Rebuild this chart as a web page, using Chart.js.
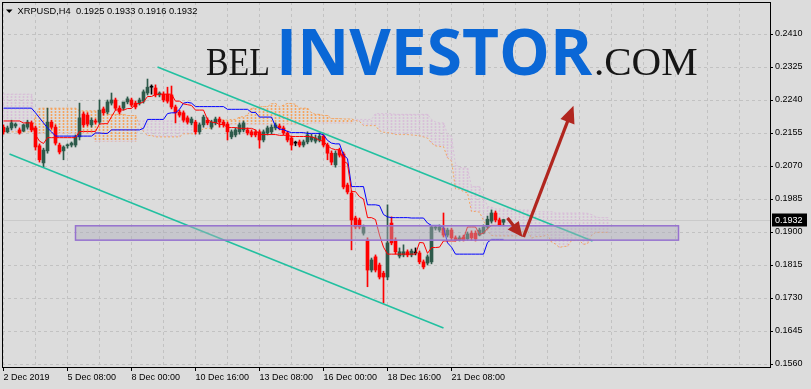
<!DOCTYPE html>
<html><head><meta charset="utf-8">
<script src="https://cdn.jsdelivr.net/npm/chart.js@4.4.1/dist/chart.umd.min.js"></script>
<style>html,body{margin:0;padding:0;background:#dcdcdc;overflow:hidden}</style>
</head><body>
<canvas id="c" width="811" height="389"></canvas>
<script>
// ---------- DATA (XRPUSD, H4) ----------
const xLabels = ['2 Dec 2019','5 Dec 08:00','8 Dec 00:00','10 Dec 16:00','13 Dec 08:00','16 Dec 00:00','18 Dec 16:00','21 Dec 08:00'];
const xGridBars = [0,8,16,24,32,40,48,56,64,72,80,88,96,104,112,120,128,136,144,152,160,168,176,184];
const yTicks = [0.1560,0.1645,0.1730,0.1815,0.1900,0.1985,0.2070,0.2155,0.2240,0.2325,0.2410];

const opens = [0.2170,0.2158,0.2168,0.2173,0.2163,0.2160,0.2170,0.2181,0.2168,0.2122,
0.2078,0.2109,0.2183,0.2170,0.2124,0.2109,0.2122,0.2124,0.2124,0.2145,
0.2204,0.2201,0.2176,0.2186,0.2183,0.2217,0.2209,0.2232,0.2240,0.2219,
0.2219,0.2235,0.2240,0.2232,0.2232,0.2237,0.2258,0.2273,0.2271,0.2253,
0.2255,0.2255,0.2253,0.2222,0.2209,0.2207,0.2194,0.2181,0.2183,0.2158,
0.2176,0.2188,0.2170,0.2181,0.2191,0.2183,0.2178,0.2145,0.2150,0.2158,
0.2163,0.2163,0.2158,0.2158,0.2158,0.2137,0.2155,0.2158,0.2168,0.2173,
0.2168,0.2155,0.2142,0.2129,0.2132,0.2124,0.2132,0.2137,0.2134,0.2137,
0.2147,0.2124,0.2103,0.2073,0.2111,0.2101,0.2021,0.2000,0.1936,0.1931,
0.1897,0.1879,0.1802,0.1836,0.1815,0.1794,0.1784,0.1923,0.1879,0.1838,
0.1841,0.1849,0.1841,0.1846,0.1846,0.1823,0.1820,0.1823,0.1910,0.1905,
0.1910,0.1892,0.1905,0.1885,0.1879,0.1887,0.1882,0.1897,0.1897,0.1892,
0.1897,0.1913,0.1928,0.1949,0.1931,0.1925];
const highs = [0.2176,0.2173,0.2188,0.2181,0.2168,0.2178,0.2188,0.2186,0.2173,0.2127,
0.2116,0.2219,0.2188,0.2176,0.2129,0.2122,0.2127,0.2132,0.2150,0.2232,
0.2209,0.2207,0.2194,0.2191,0.2240,0.2222,0.2240,0.2258,0.2245,0.2225,
0.2227,0.2248,0.2245,0.2237,0.2245,0.2266,0.2294,0.2279,0.2279,0.2261,
0.2261,0.2273,0.2276,0.2227,0.2214,0.2212,0.2199,0.2196,0.2188,0.2181,
0.2201,0.2194,0.2188,0.2196,0.2196,0.2188,0.2183,0.2163,0.2168,0.2181,
0.2186,0.2168,0.2163,0.2163,0.2163,0.2163,0.2173,0.2176,0.2181,0.2178,
0.2173,0.2160,0.2147,0.2134,0.2137,0.2137,0.2158,0.2152,0.2150,0.2155,
0.2155,0.2129,0.2109,0.2109,0.2116,0.2106,0.2026,0.2006,0.1941,0.1936,
0.1918,0.1885,0.1833,0.1841,0.1820,0.1799,0.1970,0.1939,0.1885,0.1859,
0.1867,0.1854,0.1856,0.1859,0.1851,0.1828,0.1841,0.1916,0.1916,0.1918,
0.1949,0.1910,0.1910,0.1890,0.1890,0.1892,0.1900,0.1903,0.1903,0.1910,
0.1918,0.1941,0.1957,0.1954,0.1936,0.1933];
const lows = [0.2152,0.2155,0.2163,0.2168,0.2152,0.2158,0.2165,0.2158,0.2111,0.2080,
0.2067,0.2103,0.2165,0.2124,0.2101,0.2086,0.2116,0.2119,0.2119,0.2137,
0.2170,0.2173,0.2170,0.2178,0.2178,0.2201,0.2204,0.2227,0.2214,0.2204,
0.2214,0.2230,0.2222,0.2217,0.2227,0.2232,0.2253,0.2255,0.2248,0.2248,
0.2235,0.2232,0.2217,0.2181,0.2196,0.2183,0.2178,0.2176,0.2152,0.2152,
0.2170,0.2176,0.2165,0.2176,0.2170,0.2170,0.2137,0.2140,0.2145,0.2152,
0.2158,0.2150,0.2145,0.2145,0.2116,0.2132,0.2150,0.2152,0.2163,0.2163,
0.2150,0.2132,0.2111,0.2122,0.2119,0.2119,0.2127,0.2132,0.2129,0.2132,
0.2119,0.2086,0.2073,0.2067,0.2093,0.2011,0.1998,0.1854,0.1908,0.1908,
0.1892,0.1759,0.1797,0.1797,0.1779,0.1717,0.1777,0.1867,0.1843,0.1833,
0.1836,0.1836,0.1836,0.1841,0.1818,0.1805,0.1815,0.1818,0.1905,0.1900,
0.1887,0.1887,0.1879,0.1877,0.1877,0.1877,0.1879,0.1879,0.1877,0.1890,
0.1895,0.1908,0.1923,0.1926,0.1916,0.1916];
const closes = [0.2158,0.2168,0.2181,0.2178,0.2155,0.2176,0.2183,0.2163,0.2119,0.2086,
0.2111,0.2183,0.2170,0.2129,0.2106,0.2119,0.2124,0.2129,0.2145,0.2194,
0.2176,0.2178,0.2188,0.2183,0.2214,0.2207,0.2235,0.2240,0.2219,0.2209,
0.2235,0.2243,0.2227,0.2222,0.2240,0.2261,0.2273,0.2273,0.2253,0.2258,
0.2240,0.2237,0.2222,0.2207,0.2201,0.2188,0.2183,0.2191,0.2158,0.2176,
0.2196,0.2181,0.2183,0.2191,0.2183,0.2176,0.2158,0.2158,0.2163,0.2176,
0.2181,0.2155,0.2150,0.2150,0.2137,0.2158,0.2168,0.2170,0.2176,0.2168,
0.2155,0.2137,0.2124,0.2129,0.2124,0.2132,0.2150,0.2145,0.2142,0.2147,
0.2124,0.2103,0.2080,0.2103,0.2098,0.2016,0.2003,0.1931,0.1913,0.1913,
0.1913,0.1802,0.1828,0.1802,0.1784,0.1784,0.1872,0.1872,0.1849,0.1849,
0.1849,0.1841,0.1851,0.1846,0.1823,0.1810,0.1836,0.1913,0.1913,0.1913,
0.1892,0.1905,0.1885,0.1879,0.1885,0.1879,0.1895,0.1885,0.1882,0.1905,
0.1913,0.1933,0.1949,0.1931,0.1918,0.1932];

const tenkan = [0.2186,0.2186,0.2186,0.2186,0.2186,0.2181,0.2181,0.2181,0.2150,0.2134,
0.2128,0.2143,0.2143,0.2143,0.2143,0.2143,0.2143,0.2143,0.2143,0.2159,
0.2159,0.2159,0.2159,0.2159,0.2178,0.2179,0.2179,0.2197,0.2214,0.2215,
0.2214,0.2218,0.2218,0.2230,0.2231,0.2235,0.2249,0.2249,0.2254,0.2255,
0.2255,0.2255,0.2255,0.2237,0.2237,0.2230,0.2228,0.2226,0.2214,0.2214,
0.2214,0.2190,0.2183,0.2182,0.2177,0.2177,0.2169,0.2169,0.2169,0.2167,
0.2167,0.2167,0.2167,0.2163,0.2151,0.2151,0.2151,0.2151,0.2151,0.2149,
0.2149,0.2149,0.2146,0.2146,0.2146,0.2146,0.2146,0.2145,0.2142,0.2136,
0.2134,0.2122,0.2115,0.2112,0.2112,0.2083,0.2076,0.2004,0.2004,0.1991,
0.1985,0.1937,0.1937,0.1932,0.1892,0.1861,0.1843,0.1843,0.1843,0.1843,
0.1843,0.1843,0.1843,0.1843,0.1873,0.1872,0.1845,0.1860,0.1860,0.1861,
0.1877,0.1877,0.1877,0.1877,0.1882,0.1883,0.1913,0.1913,0.1913,0.1894,
0.1897,0.1909,0.1917,0.1917,0.1917,0.1917];
const kijun = [0.2219,0.2219,0.2219,0.2219,0.2219,0.2219,0.2219,0.2219,0.2207,0.2194,
0.2181,0.2168,0.2158,0.2147,0.2147,0.2147,0.2147,0.2147,0.2147,0.2147,
0.2147,0.2147,0.2147,0.2155,0.2155,0.2154,0.2154,0.2163,0.2163,0.2163,
0.2163,0.2163,0.2163,0.2163,0.2163,0.2167,0.2190,0.2190,0.2190,0.2190,
0.2190,0.2205,0.2207,0.2207,0.2216,0.2232,0.2234,0.2232,0.2223,0.2223,
0.2223,0.2223,0.2223,0.2223,0.2223,0.2223,0.2216,0.2216,0.2216,0.2216,
0.2216,0.2216,0.2208,0.2208,0.2196,0.2196,0.2196,0.2196,0.2172,0.2165,
0.2164,0.2159,0.2156,0.2156,0.2156,0.2156,0.2154,0.2154,0.2154,0.2154,
0.2150,0.2136,0.2129,0.2127,0.2127,0.2098,0.2089,0.2017,0.2017,0.2017,
0.2017,0.1970,0.1970,0.1970,0.1968,0.1945,0.1939,0.1937,0.1937,0.1937,
0.1937,0.1937,0.1936,0.1936,0.1936,0.1936,0.1923,0.1917,0.1917,0.1917,
0.1912,0.1872,0.1861,0.1843,0.1843,0.1843,0.1843,0.1843,0.1843,0.1843,
0.1843,0.1873,0.1881,0.1881,0.1881,0.1881];
const spanA = [0.2158,0.2158,0.2158,0.2158,0.2158,0.2158,0.2158,0.2158,0.2199,0.2219,
0.2219,0.2219,0.2219,0.2219,0.2219,0.2219,0.2219,0.2219,0.2219,0.2212,
0.2212,0.2212,0.2212,0.2212,0.2212,0.2212,0.2203,0.2203,0.2203,0.2203,
0.2203,0.2200,0.2200,0.2200,0.2176,0.2159,0.2148,0.2149,0.2145,0.2145,
0.2145,0.2145,0.2145,0.2145,0.2145,0.2153,0.2153,0.2153,0.2153,0.2157,
0.2167,0.2167,0.2167,0.2180,0.2188,0.2189,0.2188,0.2190,0.2190,0.2196,
0.2197,0.2201,0.2219,0.2219,0.2222,0.2223,0.2223,0.2230,0.2231,0.2222,
0.2227,0.2231,0.2231,0.2229,0.2219,0.2219,0.2219,0.2207,0.2203,0.2203,
0.2200,0.2200,0.2192,0.2192,0.2192,0.2191,0.2191,0.2191,0.2187,0.2185,
0.2174,0.2174,0.2174,0.2174,0.2161,0.2157,0.2156,0.2154,0.2151,0.2151,
0.2151,0.2151,0.2150,0.2149,0.2148,0.2145,0.2142,0.2129,0.2122,0.2120,
0.2120,0.2091,0.2083,0.2011,0.2011,0.2004,0.2001,0.1953,0.1953,0.1951,
0.1930,0.1903,0.1891,0.1890,0.1890,0.1890,0.1890,0.1890,0.1890,0.1890,
0.1904,0.1904,0.1884,0.1888,0.1888,0.1889,0.1894,0.1874,0.1869,0.1860,
0.1863,0.1863,0.1878,0.1878,0.1878,0.1868,0.1870,0.1891,0.1899,0.1899,
0.1899,0.1899];
const spanB = [0.2255,0.2255,0.2255,0.2255,0.2255,0.2255,0.2255,0.2255,0.2155,0.2155,
0.2155,0.2155,0.2155,0.2155,0.2155,0.2155,0.2155,0.2155,0.2155,0.2155,
0.2155,0.2155,0.2155,0.2134,0.2134,0.2134,0.2134,0.2134,0.2134,0.2134,
0.2134,0.2134,0.2134,0.2134,0.2186,0.2186,0.2186,0.2186,0.2186,0.2186,
0.2186,0.2186,0.2186,0.2186,0.2186,0.2186,0.2186,0.2186,0.2186,0.2178,
0.2178,0.2178,0.2178,0.2178,0.2178,0.2178,0.2178,0.2178,0.2178,0.2178,
0.2178,0.2178,0.2178,0.2178,0.2178,0.2178,0.2178,0.2178,0.2178,0.2178,
0.2178,0.2178,0.2178,0.2178,0.2178,0.2178,0.2178,0.2181,0.2181,0.2181,
0.2181,0.2181,0.2181,0.2181,0.2181,0.2181,0.2181,0.2181,0.2190,0.2190,
0.2190,0.2190,0.2190,0.2205,0.2205,0.2205,0.2205,0.2205,0.2203,0.2203,
0.2203,0.2203,0.2203,0.2203,0.2203,0.2203,0.2203,0.2190,0.2183,0.2181,
0.2181,0.2152,0.2146,0.2074,0.2066,0.2066,0.2065,0.2017,0.2017,0.2017,
0.1993,0.1966,0.1964,0.1959,0.1959,0.1959,0.1959,0.1959,0.1957,0.1957,
0.1957,0.1957,0.1953,0.1952,0.1952,0.1952,0.1952,0.1952,0.1949,0.1949,
0.1949,0.1949,0.1949,0.1949,0.1949,0.1949,0.1948,0.1945,0.1939,0.1937,
0.1937,0.1937];

const lastPrice = 0.1932;
const headerText = 'XRPUSD,H4  0.1925 0.1933 0.1916 0.1932';
// drawn objects, in (bar index, price)
const trendUpper = [[38.5,0.2325],[147.25,0.1877]];
const trendLower = [[1.5,0.2101],[110,0.1653]];
const zoneBars = [18,168.75];
const zonePrices = [0.1916,0.1879];
const arrowShort = [[126,0.1936],[129.75,0.1887]];
const arrowLong = [[130,0.1887],[142.5,0.2225]];

// ---------- STYLE ----------
const BG = '#dcdcdc', GRID = '#c2c2c2';
const BULL = '#2d5a4a', BEAR = '#ff0000', DOJI = '#000000';
const FONT = '"Liberation Sans", Arial, sans-serif';
function candleColor(i){ return closes[i] > opens[i] ? BULL : (closes[i] < opens[i] ? BEAR : DOJI); }

const canvas = document.getElementById('c');
const ctx0 = canvas.getContext('2d');
function hatch(color){
  const p = document.createElement('canvas'); p.width = 1; p.height = 3;
  const g = p.getContext('2d'); g.fillStyle = color; g.fillRect(0,0,1,2);
  return ctx0.createPattern(p,'repeat');
}
const hatchOrange = hatch('#f4a460'), hatchThistle = hatch('#d8bfd8');
function labelFor(v){ return (v % 16 === 0 && v/16 < xLabels.length) ? xLabels[v/16] : ''; }

const bgPlugin = { id:'bg', beforeDraw(chart){ const g=chart.ctx; g.save(); g.fillStyle=BG; g.fillRect(0,0,chart.width,chart.height); g.restore(); } };

const underlay = { id:'under', beforeDatasetsDraw(chart){
  const g = chart.ctx, a = chart.chartArea, ys = chart.scales.y;
  g.save();
  // bid line
  const by = Math.round(ys.getPixelForValue(lastPrice)) + 0.5;
  g.strokeStyle = '#cacaca'; g.lineWidth = 1;
  g.beginPath(); g.moveTo(a.left, by); g.lineTo(a.right, by); g.stroke();
  // watermark
  g.textBaseline = 'alphabetic'; g.textAlign = 'left';
  g.fillStyle = '#161616'; g.font = '41px "Liberation Serif", serif';
  g.fillText('BEL', 206, 75, 64);
  g.fillStyle = '#0a67d6'; g.font = 'bold 64px "Open Sans", sans-serif';
  g.fillText('INVESTOR', 276, 75, 318);
  g.fillStyle = '#161616'; g.font = '41px "Liberation Serif", serif';
  g.fillText('.COM', 594, 75, 106);
  g.restore();
}};

function drawArrow(g, xs, ys, pts, head, halfW){
  const x1 = xs.getPixelForValue(pts[0][0]), y1 = ys.getPixelForValue(pts[0][1]);
  const x2 = xs.getPixelForValue(pts[1][0]), y2 = ys.getPixelForValue(pts[1][1]);
  const dx = x2-x1, dy = y2-y1, L = Math.hypot(dx,dy), ux = dx/L, uy = dy/L;
  const bx = x2 - ux*head, by = y2 - uy*head;
  g.beginPath(); g.moveTo(x1,y1); g.lineTo(x2-ux*head*0.6, y2-uy*head*0.6); g.stroke();
  g.beginPath(); g.moveTo(x2,y2); g.lineTo(bx - uy*halfW, by + ux*halfW); g.lineTo(bx + uy*halfW, by - ux*halfW); g.closePath(); g.fill();
}

const overlay = { id:'over', afterDatasetsDraw(chart){
  const g = chart.ctx, xs = chart.scales.x, ys = chart.scales.y, a = chart.chartArea;
  g.save();
  g.beginPath(); g.rect(a.left, a.top, a.right-a.left, a.bottom-a.top); g.clip();
  // zone rectangle
  const rx0 = xs.getPixelForValue(zoneBars[0]), rx1 = xs.getPixelForValue(zoneBars[1]);
  const ry0 = ys.getPixelForValue(zonePrices[0]), ry1 = ys.getPixelForValue(zonePrices[1]);
  g.fillStyle = 'rgba(172,172,186,0.45)';
  g.fillRect(rx0, ry0, rx1-rx0, ry1-ry0);
  g.strokeStyle = '#9672cf'; g.lineWidth = 1.5;
  g.strokeRect(rx0, ry0, rx1-rx0, ry1-ry0);
  // arrows
  g.strokeStyle = '#b1261f'; g.fillStyle = '#b1261f'; g.lineWidth = 3.2; g.lineCap = 'butt';
  drawArrow(g, xs, ys, arrowShort, 15, 7);
  drawArrow(g, xs, ys, arrowLong, 17, 7.5);
  g.restore();
}};

const frame = { id:'frame', afterDraw(chart){
  const g = chart.ctx, a = chart.chartArea, ys = chart.scales.y;
  g.save();
  g.strokeStyle = '#000'; g.lineWidth = 1;
  g.strokeRect(a.left+0.5, a.top+0.5, a.right-a.left, a.bottom-a.top);
  // header
  g.fillStyle = '#000';
  g.beginPath(); g.moveTo(6,9.5); g.lineTo(12.5,9.5); g.lineTo(9.25,13); g.closePath(); g.fill();
  g.font = '9.3px ' + FONT; g.textBaseline = 'alphabetic'; g.textAlign = 'left';
  g.fillText(headerText, 17.5, 14);
  // price label
  const py = ys.getPixelForValue(lastPrice);
  g.fillStyle = '#000'; g.fillRect(772, Math.round(py)-6.5, 35, 13);
  g.fillStyle = '#fff'; g.font = '9px ' + FONT; g.textBaseline = 'middle';
  g.fillText(lastPrice.toFixed(4), 775, py+0.5);
  g.restore();
}};

const pt = (arr) => arr.map((v,i) => ({x:i, y:v}));
const xy = (arr) => arr.map(p => ({x:p[0], y:p[1]}));

new Chart(canvas, {
  type: 'bar',
  data: { datasets: [
    { type:'bar', label:'Kumo', data: spanA.map((v,j)=>({x:j, y:[v, spanB[j]]})),
      backgroundColor: c => (c.raw && c.raw.y[0] >= c.raw.y[1]) ? hatchOrange : hatchThistle,
      barThickness:1, grouped:false, borderWidth:0, order:10 },
    { type:'line', label:'Senkou Span A', data: pt(spanA), borderColor:'#f4a460', borderWidth:1, borderDash:[2,2], pointRadius:0, tension:0, order:9 },
    { type:'line', label:'Senkou Span B', data: pt(spanB), borderColor:'#d8bfd8', borderWidth:1, borderDash:[2,2], pointRadius:0, tension:0, order:9 },
    { type:'bar', label:'Wicks', data: lows.map((v,i)=>({x:i, y:[v, highs[i]]})),
      backgroundColor: c => candleColor(c.dataIndex), barThickness:1, grouped:false, borderWidth:0, order:8 },
    { type:'bar', label:'Bodies', data: opens.map((v,i)=>({x:i, y:[v, closes[i]]})),
      backgroundColor: c => candleColor(c.dataIndex), barThickness:3, minBarLength:1, grouped:false, borderWidth:0, order:7 },
    { type:'line', label:'Tenkan-sen', data: pt(tenkan), borderColor:'#ff0000', borderWidth:1, pointRadius:0, tension:0, order:6 },
    { type:'line', label:'Kijun-sen', data: pt(kijun), borderColor:'#0000ff', borderWidth:1, pointRadius:0, tension:0, order:6 },
    { type:'line', label:'Trend upper', data: xy(trendUpper), borderColor:'#22c0a0', borderWidth:1.6, pointRadius:0, order:5 },
    { type:'line', label:'Trend lower', data: xy(trendLower), borderColor:'#22c0a0', borderWidth:1.6, pointRadius:0, order:5 }
  ]},
  options: {
    responsive:false, animation:false, devicePixelRatio:1, events:[],
    layout: { padding: { left:2, top:2, right:0, bottom:0 } },
    plugins: { legend:{display:false}, tooltip:{enabled:false} },
    scales: {
      x: {
        type:'linear', min:-0.375, max:191.625, offset:false,
        afterBuildTicks: s => { s.ticks = xGridBars.map(v => ({value:v})); },
        afterFit: s => { s.height = 22; s.paddingLeft = 0; s.paddingRight = 0; },
        grid: { offset:false, color:GRID, lineWidth:1, drawTicks:true, tickLength:4, tickWidth:1,
          tickColor: c => (c.tick && labelFor(c.tick.value)) ? '#000' : 'rgba(0,0,0,0)' },
        border: { display:false, dash:[3,3] },
        ticks: { autoSkip:false, maxRotation:0, minRotation:0, align:'start', padding:1, color:'#000',
          font:{ family:FONT, size:9 }, callback: v => labelFor(v) }
      },
      y: {
        type:'linear', position:'right', min:0.155228, max:0.249243,
        afterBuildTicks: s => { s.ticks = yTicks.map(v => ({value:v})); },
        afterFit: s => { s.width = 41; s.paddingTop = 0; s.paddingBottom = 0; },
        grid: { color:GRID, lineWidth:1, drawTicks:true, tickLength:3, tickColor:'#000', tickWidth:1 },
        border: { display:false, dash:[3,3] },
        ticks: { padding:2, color:'#000', font:{ family:FONT, size:9 }, callback: v => Number(v).toFixed(4) }
      }
    }
  },
  plugins: [bgPlugin, underlay, overlay, frame]
});
</script>
</body></html>
